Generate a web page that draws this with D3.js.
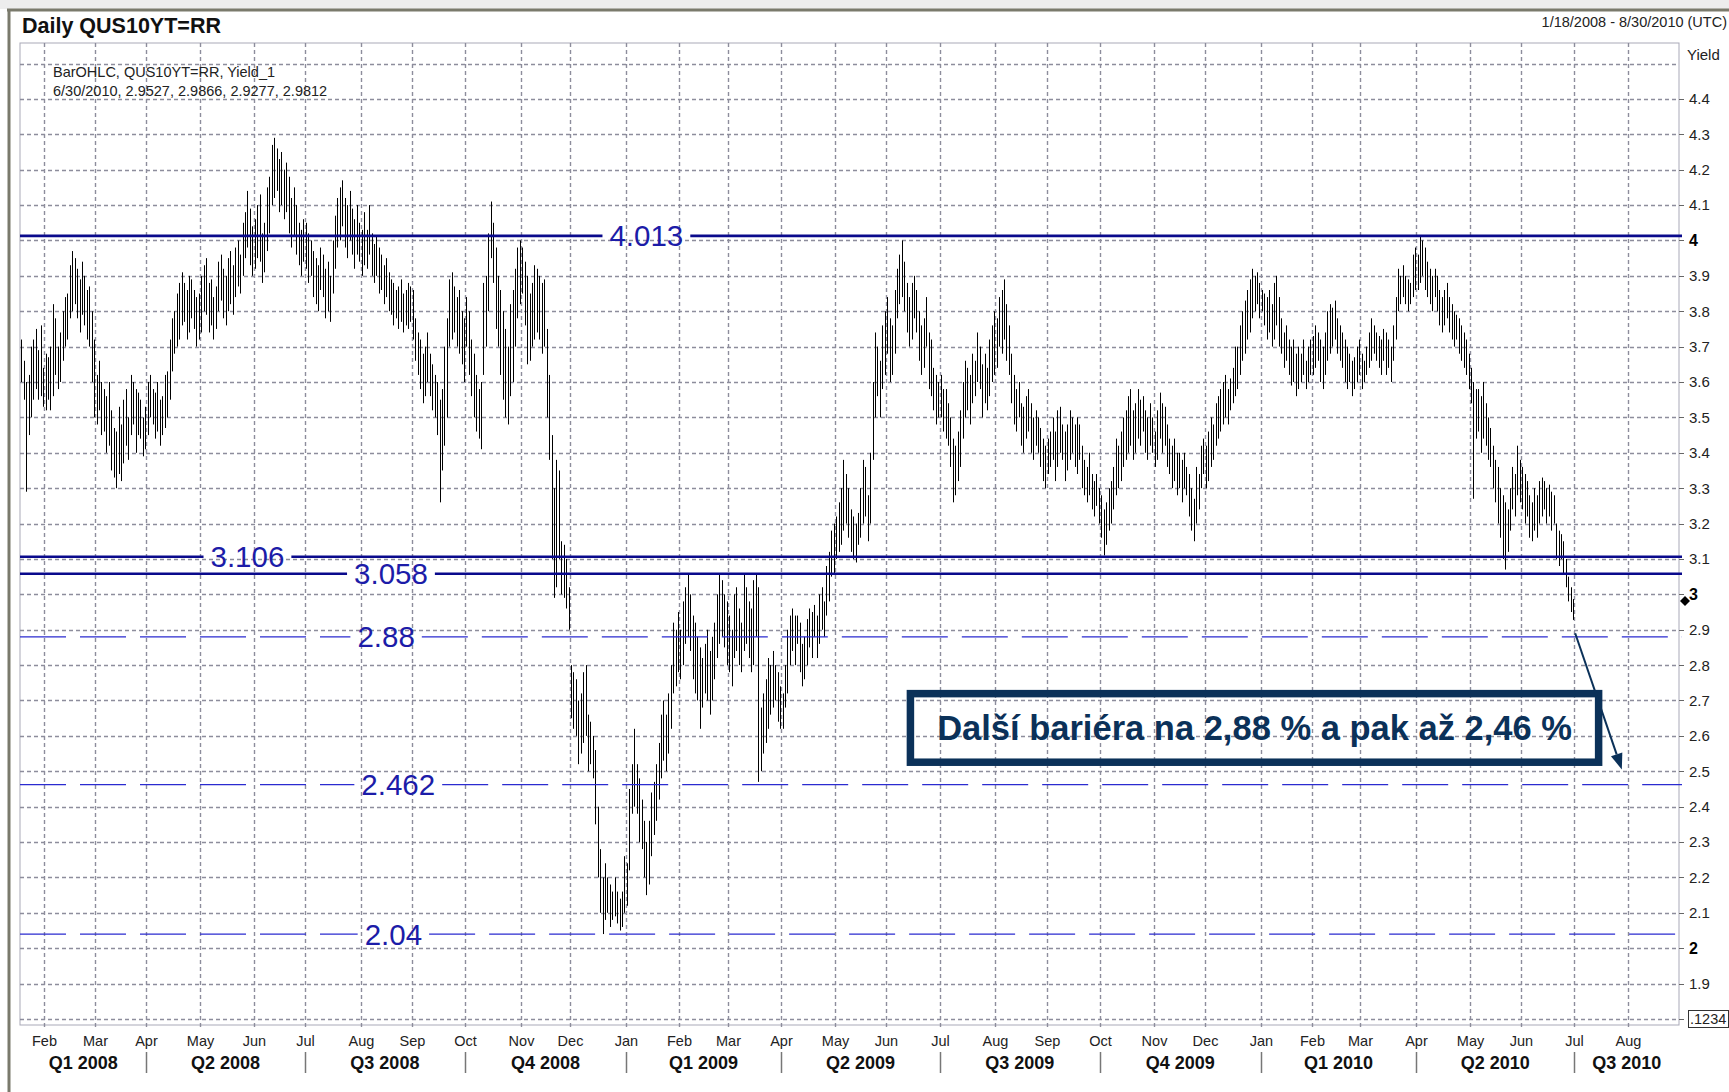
<!DOCTYPE html>
<html>
<head>
<meta charset="utf-8">
<script src="https://cdn.jsdelivr.net/npm/d3@7"></script>
<style>
  html, body { margin: 0; padding: 0; background: #fff; }
  svg { display: block; font-family: "Liberation Sans", Arial, sans-serif; }
</style>
</head>
<body>
<svg id="chart" width="1729" height="1092"></svg>
<script>
// Daily bars, one [low, high] pair per weekday starting 1/18/2008

const q1_2008 = [
  [3.60,3.72],[3.55,3.66],[3.29,3.60],[3.45,3.62],[3.50,3.70],[3.55,3.72],[3.58,3.75],[3.55,3.69],[3.56,3.76],[3.53,3.64],
  [3.52,3.68],[3.55,3.67],[3.52,3.70],[3.56,3.82],[3.62,3.78],[3.58,3.70],[3.60,3.74],[3.66,3.80],[3.70,3.84],[3.72,3.85],
  [3.78,3.93],[3.80,3.97],[3.82,3.95],[3.78,3.92],[3.74,3.89],[3.79,3.94],[3.76,3.90],[3.72,3.86],[3.70,3.87],[3.60,3.80],
  [3.50,3.72],[3.48,3.62],[3.52,3.66],[3.45,3.60],[3.46,3.58],[3.40,3.56],[3.42,3.60],[3.35,3.52],[3.33,3.47],[3.30,3.46],
  [3.34,3.53],[3.32,3.48],[3.37,3.55],[3.42,3.58],[3.38,3.50],[3.45,3.62],[3.48,3.60],[3.40,3.58],[3.45,3.57],[3.44,3.55],
  [3.39,3.50],[3.41,3.53]
];
const q2_2008 = [
  [3.45,3.60],[3.50,3.62],[3.48,3.58],[3.44,3.57],[3.46,3.60],[3.42,3.55],[3.45,3.56],[3.47,3.62],[3.50,3.63],[3.55,3.72],
  [3.63,3.78],[3.68,3.80],[3.70,3.85],[3.72,3.88],[3.76,3.91],[3.77,3.88],[3.72,3.86],[3.74,3.90],[3.78,3.89],[3.75,3.86],
  [3.70,3.84],[3.72,3.85],[3.74,3.90],[3.80,3.93],[3.79,3.95],[3.74,3.88],[3.76,3.89],[3.72,3.84],[3.75,3.87],[3.80,3.94],
  [3.83,3.96],[3.78,3.92],[3.76,3.90],[3.80,3.95],[3.82,3.97],[3.79,3.93],[3.84,3.98],[3.87,4.00],[3.85,3.96],[3.90,4.05],
  [3.95,4.08],[3.98,4.14],[3.93,4.09],[3.90,4.04],[3.92,4.06],[3.95,4.10],[3.94,4.13],[3.88,4.02],[3.91,4.05],[3.97,4.15],
  [4.02,4.18],[4.10,4.27],[4.12,4.29],[4.14,4.26],[4.08,4.23],[4.10,4.25],[4.06,4.20],[4.08,4.22],[4.02,4.18],[3.98,4.12],
  [4.01,4.15],[3.96,4.10],[3.93,4.05],[3.90,4.03],[3.94,4.06]
];
const q3_2008 = [
  [3.92,4.05],[3.88,4.02],[3.90,4.00],[3.84,3.97],[3.82,3.95],[3.80,3.93],[3.86,3.98],[3.84,3.96],[3.78,3.92],[3.80,3.94],
  [3.77,3.90],[3.85,4.00],[3.92,4.07],[3.98,4.12],[4.00,4.15],[4.04,4.17],[3.98,4.12],[3.95,4.10],[4.00,4.14],[3.96,4.09],
  [3.92,4.06],[3.96,4.10],[3.94,4.05],[3.90,4.03],[3.93,4.08],[3.92,4.03],[3.96,4.10],[3.90,4.02],[3.88,3.99],[3.90,4.01],
  [3.85,3.98],[3.86,3.96],[3.82,3.93],[3.84,3.95],[3.80,3.91],[3.79,3.89],[3.76,3.88],[3.78,3.86],[3.75,3.87],[3.77,3.89],
  [3.74,3.85],[3.76,3.86],[3.75,3.88],[3.77,3.87],[3.72,3.86],[3.66,3.78],[3.62,3.74],[3.58,3.72],[3.54,3.68],[3.56,3.70],
  [3.60,3.74],[3.56,3.68],[3.52,3.65],[3.50,3.62],[3.45,3.60],[3.26,3.55],[3.35,3.58],[3.42,3.70],[3.50,3.78],[3.70,3.89],
  [3.72,3.91],[3.74,3.87],[3.70,3.84],[3.68,3.86],[3.65,3.80],[3.60,3.78]
];
const q4_2008 = [
  [3.70,3.84],[3.62,3.80],[3.56,3.72],[3.50,3.68],[3.46,3.62],[3.44,3.58],[3.41,3.60],[3.62,3.88],[3.70,3.90],[3.80,4.02],
  [3.95,4.11],[3.88,4.05],[3.75,3.98],[3.70,3.90],[3.62,3.86],[3.55,3.80],[3.50,3.75],[3.48,3.70],[3.56,3.82],[3.60,3.86],
  [3.70,3.92],[3.78,3.98],[3.82,4.00],[3.85,3.98],[3.76,3.94],[3.65,3.90],[3.66,3.85],[3.70,3.88],[3.72,3.93],[3.74,3.92],
  [3.72,3.90],[3.68,3.88],[3.70,3.89],[3.50,3.75],[3.38,3.62],[3.10,3.45],[2.99,3.30],[3.02,3.38],[3.10,3.35],[3.00,3.15],
  [2.99,3.14],[2.96,3.10],[2.90,3.02],[2.65,2.80],[2.62,2.78],[2.60,2.76],[2.52,2.70],[2.55,2.72],[2.58,2.78],[2.60,2.80],
  [2.50,2.66],[2.52,2.64],[2.48,2.60],[2.35,2.56],[2.20,2.40],[2.10,2.28],[2.04,2.20],[2.08,2.24],[2.10,2.20],[2.06,2.18],
  [2.08,2.16],[2.09,2.20],[2.07,2.16],[2.05,2.14],[2.06,2.16],[2.10,2.26]
];
const q1_2009 = [
  [2.12,2.24],[2.22,2.45],[2.38,2.52],[2.40,2.62],[2.38,2.52],[2.30,2.48],[2.28,2.42],[2.20,2.36],[2.15,2.30],[2.18,2.36],
  [2.26,2.44],[2.32,2.47],[2.36,2.52],[2.42,2.58],[2.48,2.66],[2.53,2.70],[2.50,2.66],[2.55,2.72],[2.62,2.80],[2.72,2.92],
  [2.74,2.90],[2.78,2.95],[2.76,2.90],[2.80,2.98],[2.86,3.02],[2.88,3.06],[2.84,3.00],[2.76,2.94],[2.72,2.92],[2.70,2.88],
  [2.62,2.85],[2.68,2.82],[2.72,2.86],[2.70,2.90],[2.66,2.84],[2.70,2.88],[2.76,2.92],[2.82,3.00],[2.86,3.06],[2.88,3.04],
  [2.85,3.00],[2.80,2.98],[2.78,2.94],[2.74,2.90],[2.82,3.00],[2.84,3.02],[2.80,2.96],[2.78,2.92],[2.84,3.06],[2.86,3.02],
  [2.82,2.98],[2.78,2.96],[2.80,3.04],[2.88,3.06],[2.47,3.02],[2.50,2.68],[2.55,2.72],[2.58,2.76],[2.62,2.82],[2.66,2.80],
  [2.68,2.84],[2.70,2.80],[2.64,2.78],[2.62,2.74]
];
const q2_2009 = [
  [2.62,2.72],[2.68,2.80],[2.72,2.90],[2.80,2.94],[2.84,2.96],[2.80,2.94],[2.86,2.94],[2.78,2.92],[2.74,2.86],[2.76,2.88],
  [2.80,2.93],[2.85,2.96],[2.82,2.95],[2.88,2.97],[2.82,2.94],[2.86,3.00],[2.90,3.02],[2.88,2.98],[2.94,3.08],[2.98,3.12],
  [3.05,3.18],[3.06,3.20],[3.10,3.22],[3.12,3.26],[3.14,3.30],[3.18,3.38],[3.20,3.34],[3.16,3.30],[3.12,3.24],[3.10,3.22],
  [3.09,3.20],[3.14,3.23],[3.16,3.30],[3.20,3.38],[3.22,3.36],[3.15,3.28],[3.20,3.40],[3.38,3.60],[3.50,3.74],[3.56,3.70],
  [3.50,3.66],[3.58,3.76],[3.62,3.80],[3.68,3.84],[3.60,3.78],[3.62,3.76],[3.68,3.86],[3.78,3.92],[3.82,3.96],[3.84,4.00],
  [3.80,3.94],[3.74,3.88],[3.70,3.84],[3.72,3.88],[3.78,3.90],[3.74,3.86],[3.66,3.80],[3.62,3.76],[3.64,3.78],[3.70,3.84],
  [3.58,3.74],[3.56,3.72],[3.52,3.64],[3.48,3.62],[3.50,3.60]
];
const q3_2009 = [
  [3.50,3.62],[3.46,3.58],[3.44,3.58],[3.42,3.54],[3.36,3.50],[3.26,3.44],[3.28,3.42],[3.32,3.46],[3.36,3.52],[3.44,3.60],
  [3.50,3.66],[3.52,3.64],[3.48,3.62],[3.54,3.68],[3.56,3.66],[3.60,3.74],[3.58,3.70],[3.50,3.65],[3.54,3.68],[3.52,3.64],
  [3.56,3.72],[3.60,3.76],[3.62,3.80],[3.64,3.78],[3.70,3.84],[3.68,3.86],[3.72,3.89],[3.66,3.82],[3.62,3.76],[3.54,3.68],
  [3.48,3.62],[3.46,3.58],[3.50,3.60],[3.42,3.54],[3.40,3.53],[3.44,3.56],[3.46,3.58],[3.40,3.54],[3.38,3.50],[3.42,3.52],
  [3.40,3.50],[3.36,3.47],[3.32,3.44],[3.30,3.42],[3.34,3.44],[3.36,3.46],[3.38,3.50],[3.32,3.46],[3.36,3.52],[3.40,3.53],
  [3.38,3.48],[3.32,3.46],[3.35,3.48],[3.38,3.52],[3.40,3.50],[3.36,3.48],[3.34,3.50],[3.38,3.48],[3.30,3.42],[3.28,3.38],
  [3.26,3.36],[3.28,3.40],[3.24,3.34],[3.22,3.32],[3.25,3.34],[3.20,3.30]
];
const q4_2009 = [
  [3.16,3.28],[3.11,3.24],[3.14,3.26],[3.18,3.30],[3.20,3.32],[3.24,3.36],[3.28,3.44],[3.30,3.42],[3.32,3.46],[3.36,3.50],
  [3.38,3.52],[3.40,3.56],[3.42,3.58],[3.38,3.52],[3.40,3.54],[3.44,3.58],[3.42,3.55],[3.46,3.56],[3.40,3.52],[3.38,3.50],
  [3.42,3.54],[3.40,3.50],[3.36,3.46],[3.38,3.52],[3.44,3.57],[3.40,3.54],[3.42,3.53],[3.36,3.48],[3.34,3.44],[3.30,3.42],
  [3.32,3.44],[3.28,3.40],[3.30,3.40],[3.26,3.38],[3.30,3.40],[3.28,3.36],[3.22,3.34],[3.18,3.30],[3.15,3.27],[3.20,3.36],
  [3.24,3.34],[3.30,3.42],[3.34,3.44],[3.30,3.42],[3.32,3.46],[3.36,3.50],[3.38,3.48],[3.42,3.54],[3.44,3.56],[3.46,3.58],
  [3.48,3.60],[3.50,3.62],[3.48,3.58],[3.52,3.61],[3.54,3.64],[3.56,3.70],[3.58,3.70],[3.62,3.76],[3.66,3.80],[3.68,3.83],
  [3.72,3.86],[3.74,3.89],[3.78,3.92],[3.80,3.90],[3.82,3.91],[3.78,3.88]
];
const q1_2010 = [
  [3.80,3.86],[3.76,3.85],[3.72,3.84],[3.74,3.86],[3.70,3.82],[3.72,3.88],[3.76,3.90],[3.70,3.84],[3.68,3.78],[3.64,3.74],
  [3.66,3.76],[3.62,3.72],[3.59,3.70],[3.60,3.72],[3.56,3.68],[3.58,3.70],[3.60,3.68],[3.62,3.72],[3.58,3.66],[3.60,3.70],
  [3.62,3.72],[3.62,3.73],[3.64,3.76],[3.66,3.74],[3.60,3.72],[3.58,3.70],[3.62,3.74],[3.66,3.80],[3.68,3.82],[3.70,3.81],
  [3.72,3.83],[3.68,3.78],[3.66,3.76],[3.64,3.74],[3.60,3.72],[3.58,3.70],[3.60,3.68],[3.56,3.66],[3.58,3.67],[3.60,3.70],
  [3.62,3.72],[3.58,3.68],[3.60,3.66],[3.62,3.70],[3.64,3.74],[3.66,3.78],[3.68,3.76],[3.66,3.74],[3.64,3.73],[3.62,3.72],
  [3.66,3.75],[3.62,3.74],[3.64,3.72],[3.60,3.70],[3.66,3.76],[3.72,3.84],[3.80,3.92],[3.82,3.90],[3.84,3.93],[3.82,3.90],
  [3.80,3.89],[3.82,3.88],[3.84,3.96],[3.86,3.98]
];
const q2_2010 = [
  [3.86,3.96],[3.88,4.01],[3.90,4.00],[3.86,3.98],[3.84,3.94],[3.82,3.92],[3.80,3.90],[3.84,3.92],[3.80,3.90],[3.76,3.86],
  [3.74,3.84],[3.76,3.86],[3.78,3.88],[3.74,3.84],[3.72,3.82],[3.70,3.80],[3.72,3.79],[3.68,3.78],[3.66,3.76],[3.64,3.74],
  [3.62,3.72],[3.58,3.68],[3.54,3.64],[3.27,3.60],[3.44,3.58],[3.46,3.58],[3.40,3.56],[3.44,3.60],[3.42,3.54],[3.38,3.50],
  [3.36,3.47],[3.30,3.42],[3.26,3.38],[3.20,3.36],[3.16,3.30],[3.10,3.28],[3.07,3.26],[3.12,3.24],[3.18,3.30],[3.24,3.36],
  [3.22,3.34],[3.28,3.42],[3.26,3.38],[3.24,3.36],[3.20,3.34],[3.22,3.32],[3.16,3.28],[3.15,3.26],[3.18,3.30],[3.16,3.28],
  [3.20,3.32],[3.22,3.33],[3.24,3.32],[3.20,3.30],[3.22,3.31],[3.18,3.29],[3.20,3.28],[3.10,3.20],[3.08,3.18],[3.10,3.17],
  [3.06,3.15],[3.02,3.10],[2.98,3.05],[2.95,3.02]
];

// last bar, as in the header line
const lastDate = "6/30/2010";
const lastOHLC = [2.9527, 2.9866, 2.9277, 2.9812];

// horizontal levels
const solidLevels = [4.013, 3.106, 3.058];
const dashedLevels = [2.88, 2.462, 2.04];

// axis labels
const yTickValues = [1.9, 2.0, 2.1, 2.2, 2.3, 2.4, 2.5, 2.6, 2.7, 2.8, 2.9, 3.0, 3.1, 3.2, 3.3, 3.4, 3.5, 3.6, 3.7, 3.8, 3.9, 4.0, 4.1, 4.2, 4.3, 4.4];
const quarterLabels = ["Q1 2008", "Q2 2008", "Q3 2008", "Q4 2008", "Q1 2009", "Q2 2009", "Q3 2009", "Q4 2009", "Q1 2010", "Q2 2010", "Q3 2010"];

const titleText = "Daily QUS10YT=RR";
const rangeText = "1/18/2008 - 8/30/2010 (UTC)";
const seriesText = "BarOHLC, QUS10YT=RR, Yield_1";
const noteText = "Další bariéra na 2,88 % a pak až 2,46 %";

// ---- layout
const W = 1729, H = 1092;
const plot = { left: 20, right: 1679, top: 43, bottom: 1025 };

const gridColor = "#8d8d9c";
const levelColor = "#0a0a8c";
const labelColor = "#1c1ca8";
const noteColor = "#0b3159";

const svg = d3.select("#chart");

// weekday calendar for the x axis (1/18/2008 .. 8/30/2010)
const days = d3.timeDay.range(new Date(2008, 0, 18), new Date(2010, 7, 31))
  .filter(d => d.getDay() !== 0 && d.getDay() !== 6);
const idxOf = date => days.findIndex(d => d >= date);

const x = d3.scaleLinear()
  .domain([-0.5, days.length - 0.5])
  .range([plot.left, plot.right]);

const y = d3.scaleLinear()
  .domain([1.783, 4.558])
  .range([plot.bottom, plot.top]);

const bars = [].concat(q1_2008, q2_2008, q3_2008, q4_2008, q1_2009, q2_2009,
  q3_2009, q4_2009, q1_2010, q2_2010, [[lastOHLC[2], lastOHLC[1]]]);

// ---- page frame
svg.append("rect").attr("width", W).attr("height", H).attr("fill", "#fff");
svg.append("rect").attr("width", W).attr("height", 9).attr("fill", "#ededed");
svg.append("line")
  .attr("x1", 7).attr("x2", W).attr("y1", 10).attr("y2", 10)
  .attr("stroke", "#7a7a6c").attr("stroke-width", 3);
svg.append("line")
  .attr("x1", 9).attr("x2", 9).attr("y1", 9).attr("y2", H)
  .attr("stroke", "#7a7a6c").attr("stroke-width", 3);

// ---- header
svg.append("text")
  .attr("x", 22).attr("y", 33)
  .style("font-size", "21.5px").style("font-weight", "bold").style("fill", "#111")
  .text(titleText);

svg.append("text")
  .attr("x", 1727).attr("y", 27)
  .attr("text-anchor", "end")
  .style("font-size", "14.5px").style("fill", "#222")
  .text(rangeText);

// ---- plot frame
svg.append("rect")
  .attr("x", plot.left).attr("y", plot.top)
  .attr("width", plot.right - plot.left).attr("height", plot.bottom - plot.top)
  .attr("fill", "#fff").attr("stroke", "#a9a9b8").attr("stroke-width", 1);

// ---- gridlines
const gridValues = d3.range(18, 46).map(d => d / 10);
svg.append("g").selectAll("line")
  .data(gridValues)
  .enter().append("line")
  .attr("x1", plot.left).attr("x2", plot.right)
  .attr("y1", d => Math.round(y(d)) + 0.5).attr("y2", d => Math.round(y(d)) + 0.5)
  .attr("stroke", gridColor).attr("stroke-width", 1.4)
  .attr("stroke-dasharray", "4,3");

const months = d3.timeMonth.range(new Date(2008, 1, 1), new Date(2010, 8, 1));
const monthX = months.map(m => Math.round(x(idxOf(m) - 0.5)) + 0.5);

svg.append("g").selectAll("line")
  .data(monthX)
  .enter().append("line")
  .attr("x1", d => d).attr("x2", d => d)
  .attr("y1", plot.top).attr("y2", plot.bottom + 5)
  .attr("stroke", gridColor).attr("stroke-width", 1.4)
  .attr("stroke-dasharray", "4,3");

// ---- bars
svg.append("g").selectAll("line")
  .data(bars)
  .enter().append("line")
  .attr("x1", (d, i) => Math.round(x(i)) + 0.5)
  .attr("x2", (d, i) => Math.round(x(i)) + 0.5)
  .attr("y1", d => y(d[1]))
  .attr("y2", d => y(d[0]))
  .attr("stroke", "#000")
  .attr("stroke-width", 1);

// ---- level lines with labels sitting in a gap
const levelLabelAt = { 4.013: 257, 3.106: 93, 3.058: 152, 2.88: 150, 2.462: 155, 2.04: 153 };

function drawLevel(v, dashed) {
  const g = svg.append("g");
  const cy = y(v);
  const cx = x(levelLabelAt[v]);
  const label = g.append("text")
    .attr("x", cx).attr("y", cy).attr("dy", "0.36em")
    .attr("text-anchor", "middle")
    .style("font-size", "29.5px").style("fill", labelColor)
    .text(String(v));
  const half = label.node().getComputedTextLength() / 2 + 7;
  [[plot.left, cx - half], [cx + half, plot.right + 3]].forEach(([a, b]) => {
    g.insert("line", "text")
      .attr("x1", a).attr("x2", b).attr("y1", cy).attr("y2", cy)
      .attr("stroke", dashed ? "#2b2bd0" : levelColor)
      .attr("stroke-width", dashed ? 1.2 : 2.6)
      .attr("stroke-dasharray", dashed ? "46,14" : null);
  });
}
solidLevels.forEach(v => drawLevel(v, false));
dashedLevels.forEach(v => drawLevel(v, true));

// ---- y axis on the right
const yAxis = svg.append("g");
yAxis.selectAll("line")
  .data([1.8].concat(yTickValues))
  .enter().append("line")
  .attr("x1", plot.right).attr("x2", plot.right + 5)
  .attr("y1", d => Math.round(y(d)) + 0.5).attr("y2", d => Math.round(y(d)) + 0.5)
  .attr("stroke", "#666").attr("stroke-width", 1);

yAxis.selectAll("text")
  .data(yTickValues)
  .enter().append("text")
  .attr("x", plot.right + 10)
  .attr("y", d => y(d)).attr("dy", "0.36em")
  .style("font-size", d => Number.isInteger(d) ? "16px" : "15px")
  .style("font-weight", d => Number.isInteger(d) ? "bold" : "normal")
  .style("fill", d => Number.isInteger(d) ? "#000" : "#222")
  .text(d => Number.isInteger(d) ? d : d3.format(".1f")(d));

svg.append("text")
  .attr("x", plot.right + 8).attr("y", 60)
  .style("font-size", "15px").style("fill", "#222")
  .text("Yield");

// value box at 1.8
svg.append("rect")
  .attr("x", plot.right + 9.5).attr("y", Math.round(y(1.8)) - 8.5)
  .attr("width", 40).attr("height", 17)
  .attr("fill", "#fff").attr("stroke", "#333");
svg.append("text")
  .attr("x", plot.right + 11).attr("y", y(1.8)).attr("dy", "0.36em")
  .style("font-size", "14.5px").style("fill", "#222")
  .text(".1234");

// last value marker
svg.append("path")
  .attr("transform", `translate(${plot.right + 6},${y(lastOHLC[3])})`)
  .attr("d", "M0,-5L5,0L0,5L-5,0Z")
  .attr("fill", "#000");

// ---- x axis: months and quarters
svg.append("g").selectAll("text")
  .data(months)
  .enter().append("text")
  .attr("x", (d, i) => monthX[i])
  .attr("y", 1046)
  .attr("text-anchor", "middle")
  .style("font-size", "14.5px").style("fill", "#222")
  .text(d3.timeFormat("%b"));

const quarterStarts = d3.timeMonth.every(3).range(new Date(2008, 3, 1), new Date(2010, 7, 1));
const qEdges = [-0.5].concat(quarterStarts.map(q => idxOf(q) - 0.5), [days.length - 0.5]);

svg.append("g").selectAll("text")
  .data(quarterLabels)
  .enter().append("text")
  .attr("x", (d, i) => (x(qEdges[i]) + x(qEdges[i + 1])) / 2)
  .attr("y", 1069)
  .attr("text-anchor", "middle")
  .style("font-size", "18px").style("font-weight", "bold").style("fill", "#111")
  .text(d => d);

svg.append("g").selectAll("line")
  .data(qEdges.slice(1, -1))
  .enter().append("line")
  .attr("x1", d => Math.round(x(d)) + 0.5).attr("x2", d => Math.round(x(d)) + 0.5)
  .attr("y1", 1052).attr("y2", 1073)
  .attr("stroke", "#777").attr("stroke-width", 1.5);

// ---- series caption
svg.append("text")
  .attr("x", 53).attr("y", 77)
  .style("font-size", "14.5px").style("fill", "#222")
  .text(seriesText);
svg.append("text")
  .attr("x", 53).attr("y", 96)
  .style("font-size", "14.5px").style("fill", "#222")
  .text([lastDate].concat(lastOHLC.map(v => v.toFixed(4))).join(", "));

// ---- annotation box and arrow
const box = { x0: x(364), x1: x(650), y0: y(2.73), y1: y(2.515) };
const bw = 7.5;
svg.append("rect")
  .attr("x", box.x0 + bw / 2).attr("y", box.y0 + bw / 2)
  .attr("width", box.x1 - box.x0 - bw).attr("height", box.y1 - box.y0 - bw)
  .attr("fill", "none").attr("stroke", noteColor).attr("stroke-width", bw);
svg.append("text")
  .attr("x", (box.x0 + box.x1) / 2).attr("y", (box.y0 + box.y1) / 2).attr("dy", "0.36em")
  .attr("text-anchor", "middle")
  .style("font-size", "34.5px").style("font-weight", "bold").style("fill", noteColor)
  .text(noteText);

const a0 = [x(bars.length - 1) + 2, y(2.89)];
const a1 = [x(658), y(2.505)];
const ang = Math.atan2(a1[1] - a0[1], a1[0] - a0[0]);
const headLen = 16, headW = 6;
const base = [a1[0] - headLen * Math.cos(ang), a1[1] - headLen * Math.sin(ang)];
svg.append("line")
  .attr("x1", a0[0]).attr("y1", a0[1]).attr("x2", base[0]).attr("y2", base[1])
  .attr("stroke", noteColor).attr("stroke-width", 2);
svg.append("path")
  .attr("d", d3.line()([
    a1,
    [base[0] + headW * Math.sin(ang), base[1] - headW * Math.cos(ang)],
    [base[0] - headW * Math.sin(ang), base[1] + headW * Math.cos(ang)]
  ]) + "Z")
  .attr("fill", noteColor);
</script>
</body>
</html>
